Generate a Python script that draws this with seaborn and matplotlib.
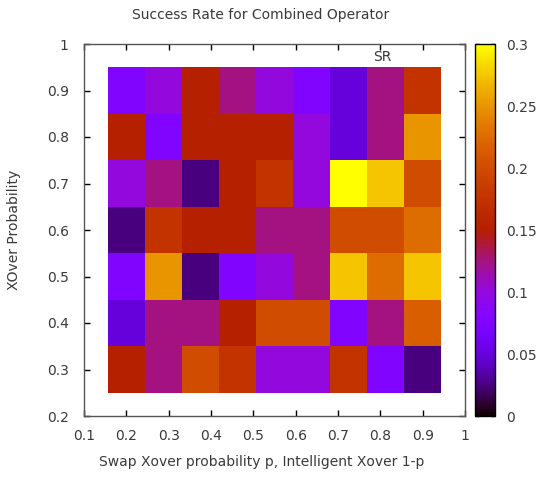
import numpy as np
import pandas as pd
import seaborn as sns
import matplotlib
matplotlib.use("Agg")
import matplotlib.pyplot as plt

# swap xover probability (columns) and xover probability (rows, top to bottom)
swap_p = [0.2, 0.2875, 0.375, 0.4625, 0.55, 0.6375, 0.725, 0.8125, 0.9]
xover_p = [0.9, 0.8, 0.7, 0.6, 0.5, 0.4, 0.3]

# success rate, one list per xover row
sr_09 = [0.075, 0.1, 0.15, 0.125, 0.1, 0.075, 0.05, 0.125, 0.175]
sr_08 = [0.15, 0.075, 0.15, 0.15, 0.15, 0.1, 0.05, 0.125, 0.25]
sr_07 = [0.1, 0.125, 0.025, 0.15, 0.175, 0.1, 0.3, 0.275, 0.2]
sr_06 = [0.025, 0.175, 0.15, 0.15, 0.125, 0.125, 0.2, 0.2, 0.225]
sr_05 = [0.075, 0.25, 0.025, 0.075, 0.1, 0.125, 0.275, 0.225, 0.275]
sr_04 = [0.05, 0.125, 0.125, 0.15, 0.2, 0.2, 0.075, 0.125, 0.215]
sr_03 = [0.15, 0.125, 0.2, 0.175, 0.1, 0.1, 0.175, 0.075, 0.025]

x_ticks = [0.1, 0.2, 0.3, 0.4, 0.5, 0.6, 0.7, 0.8, 0.9, 1]
y_ticks = [0.2, 0.3, 0.4, 0.5, 0.6, 0.7, 0.8, 0.9, 1]
cbar_ticks = [0, 0.05, 0.1, 0.15, 0.2, 0.25, 0.3]

df = pd.DataFrame([sr_09, sr_08, sr_07, sr_06, sr_05, sr_04, sr_03],
                  index=xover_p, columns=swap_p)

sns.set_style("white")
plt.rcParams['font.family'] = ['DejaVu Sans']
txt = '#3a3a3a'

W, H = 544, 479
fig = plt.figure(figsize=(W / 100, H / 100), dpi=100)
ax = fig.add_axes([84 / W, 1 - 416 / H, 381 / W, 372 / H])
cax = fig.add_axes([475 / W, 1 - 416 / H, 20 / W, 372 / H])

ax.set_xlim(0.1, 1)
ax.set_ylim(0.2, 1)
ax.set_xticks(x_ticks)
ax.set_yticks(y_ticks)
ax.set_xticklabels([f"{v:g}" for v in x_ticks])
ax.set_yticklabels([f"{v:g}" for v in y_ticks])
ax.tick_params(direction='in', length=4, width=1, color='black',
               top=True, right=True, bottom=True, left=True,
               labelsize=10, labelcolor=txt)
ax.tick_params(axis='x', pad=9)
ax.tick_params(axis='y', pad=11)
for s in ax.spines.values():
    s.set_color('#555555')
    s.set_linewidth(1)

# heatmap block placed in data coordinates of the main axes
dx = swap_p[1] - swap_p[0]
dy = xover_p[0] - xover_p[1]
x0 = swap_p[0] - dx / 2
y0 = xover_p[-1] - dy / 2
inset = ax.inset_axes([x0, y0, dx * len(swap_p), dy * len(xover_p)],
                      transform=ax.transData)
sns.heatmap(df, ax=inset, cmap='gnuplot', vmin=0, vmax=0.3,
            xticklabels=False, yticklabels=False, linewidths=0,
            cbar_ax=cax, cbar_kws={'ticks': cbar_ticks})
inset.set_axis_off()

cb = inset.collections[0].colorbar
cb.outline.set_edgecolor('black')
cb.outline.set_linewidth(1)
cax.set_yticklabels([f"{v:g}" for v in cbar_ticks])
cax.tick_params(direction='in', length=3, width=1, color='black',
                left=True, right=True, labelsize=10, labelcolor=txt, pad=8)

fig.text(261 / W, 1 - 15 / H, "Success Rate for Combined Operator",
         ha='center', va='center', fontsize=10, color=txt)
fig.text(382 / W, 1 - 57 / H, "SR", ha='center', va='center',
         fontsize=10, color=txt)
fig.text(262 / W, 1 - 462 / H, "Swap Xover probability p, Intelligent Xover 1-p",
         ha='center', va='center', fontsize=10, color=txt)
fig.text(14 / W, 1 - 230 / H, "XOver Probability", rotation=90,
         ha='center', va='center', fontsize=10, color=txt)

fig.savefig("out.png", dpi=100)
